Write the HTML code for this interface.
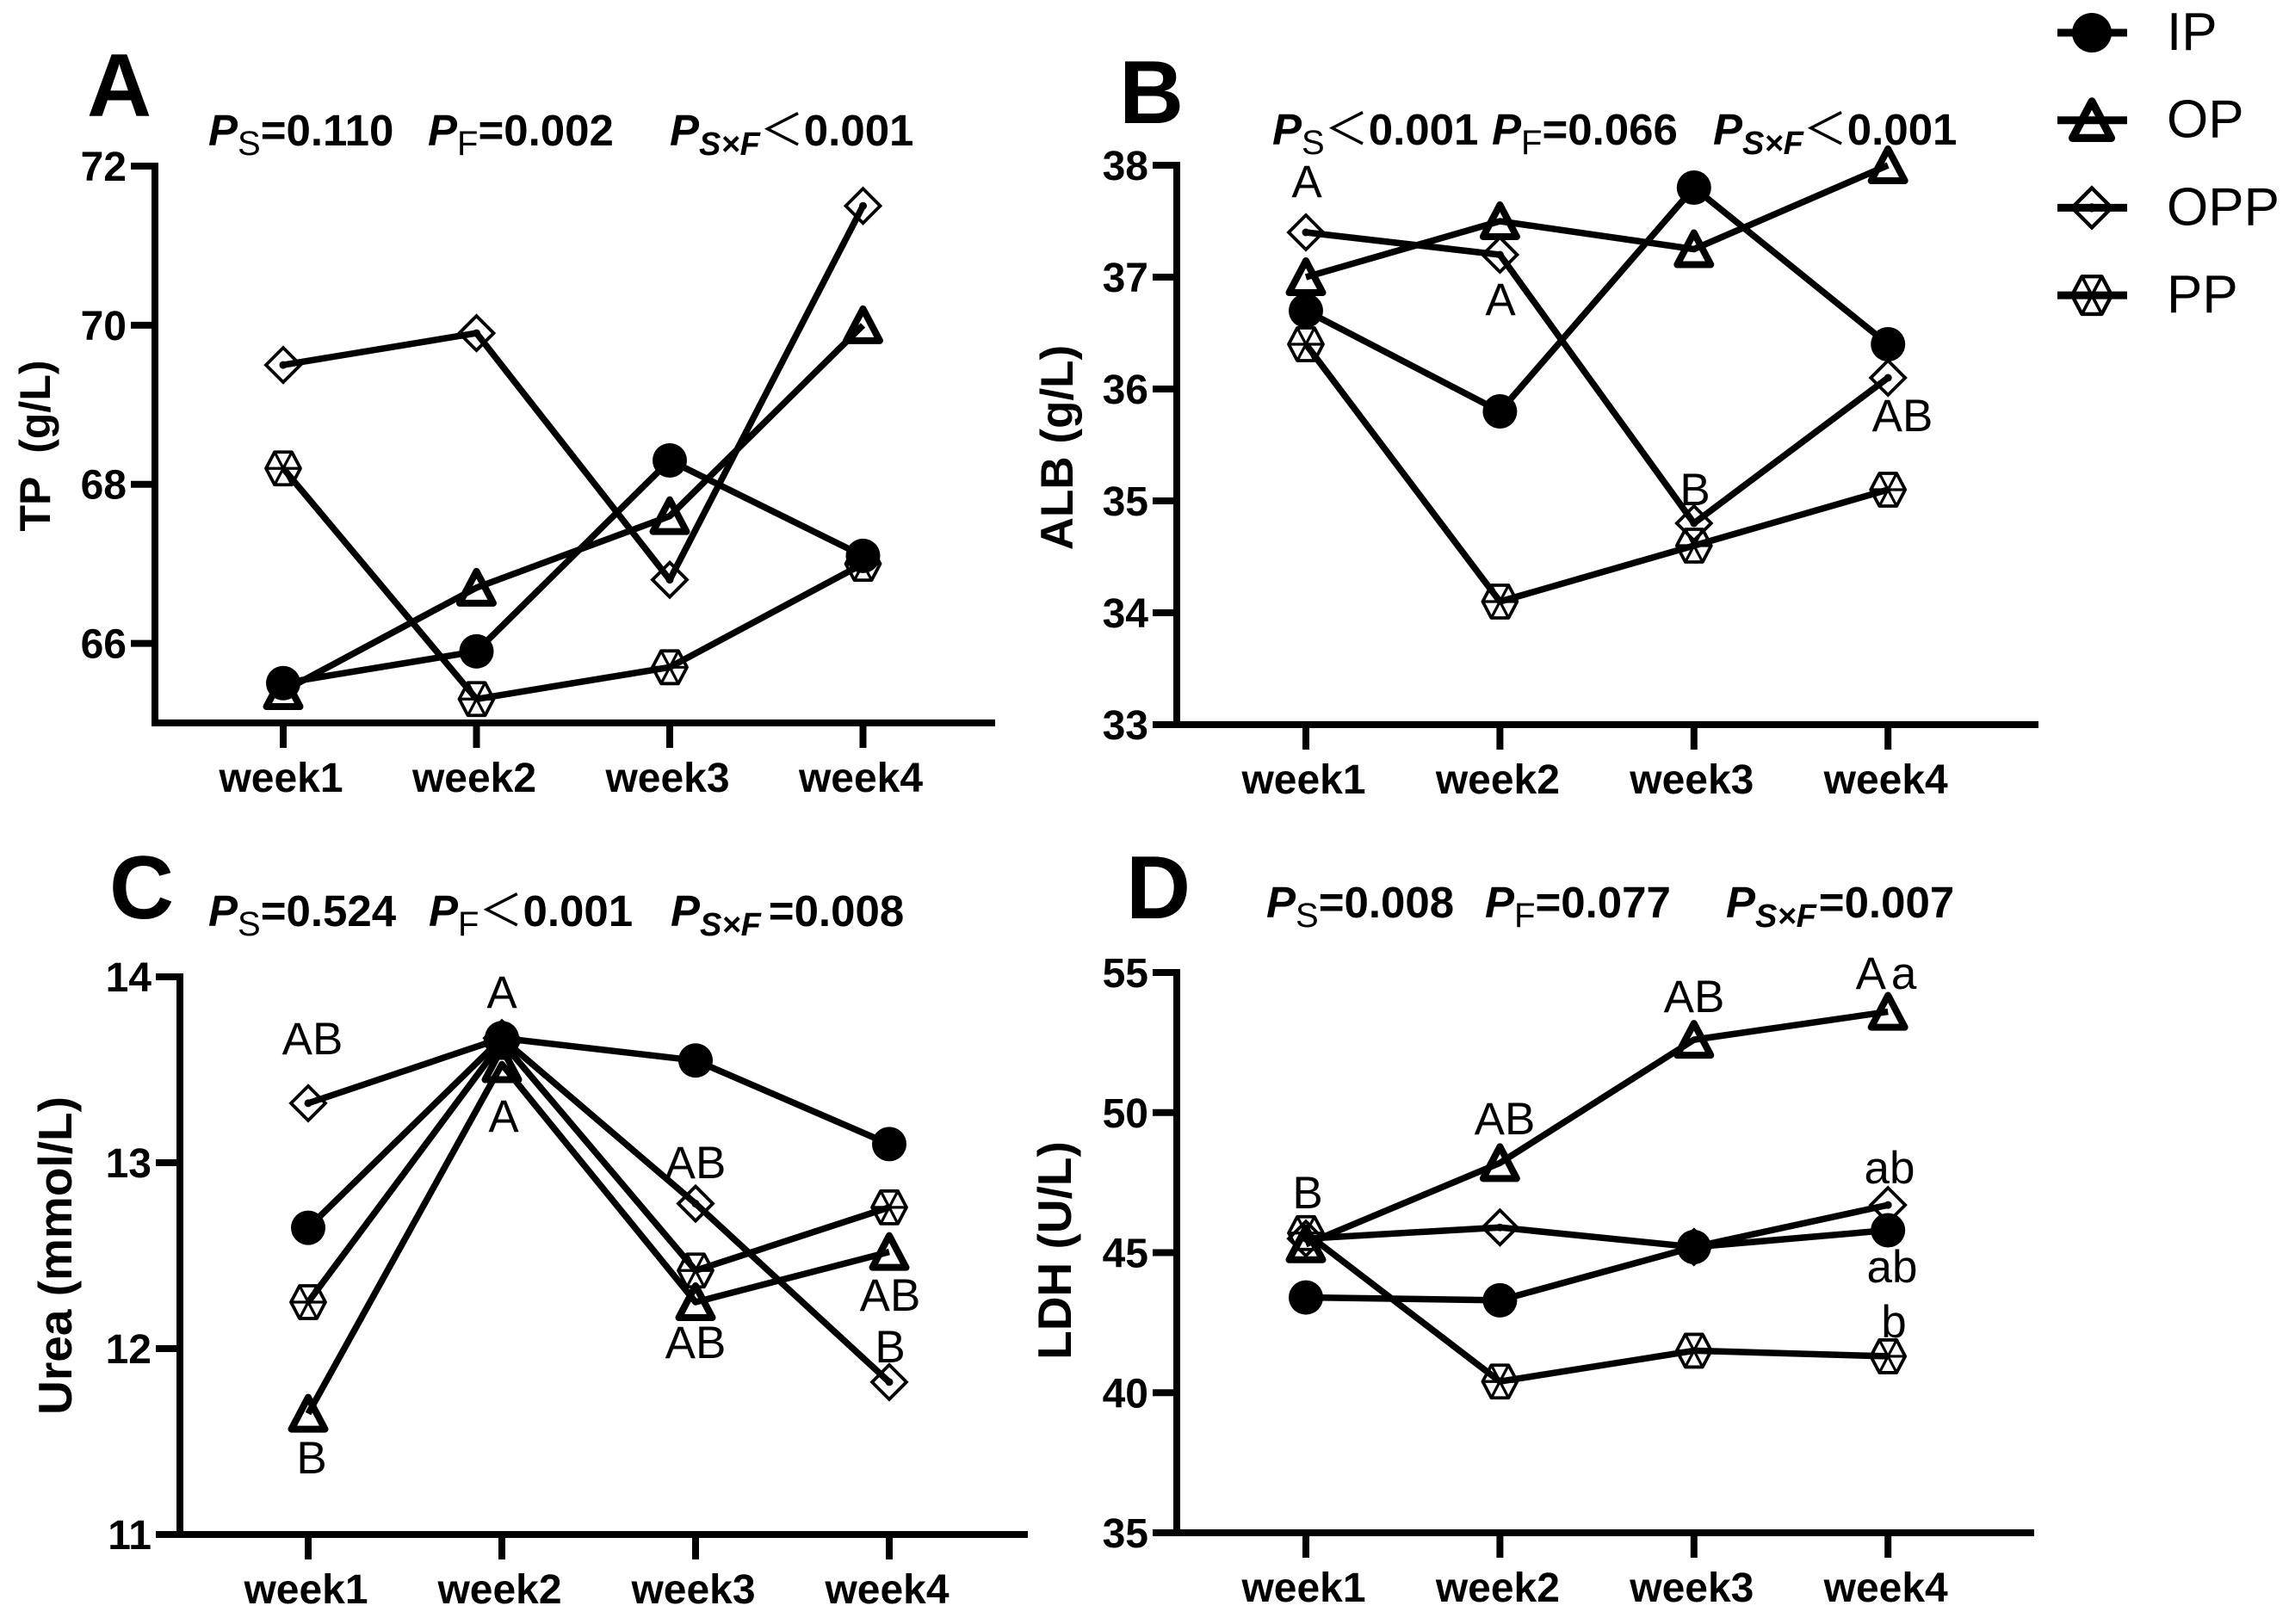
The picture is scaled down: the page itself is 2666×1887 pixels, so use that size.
<!DOCTYPE html>
<html lang="en">
<head>
<meta charset="utf-8">
<title>Serum biochemistry by week</title>
<style>
html,body{margin:0;padding:0;background:#fff;}
svg{display:block;}
text{font-family:"Liberation Sans","Noto Sans CJK SC",sans-serif;fill:#000;}
.panel-letter{font-size:104px;font-weight:700;}
.stat{font-size:51px;font-weight:700;}
.stat .i{font-style:italic;}
.stat .s{font-size:40px;font-weight:400;}
.stat .si{font-size:38px;font-style:italic;font-weight:700;}
.stat .lt{font-weight:400;font-family:"Noto Sans CJK SC","Liberation Sans",sans-serif;}
.tick{font-size:48px;font-weight:700;}
.ytitle{font-weight:700;}
.note{font-size:53px;font-weight:400;text-anchor:middle;}
.legend-label{font-size:62px;}
</style>
</head>
<body>
<svg id="chart" xmlns="http://www.w3.org/2000/svg" width="2666" height="1887" viewBox="0 0 2666 1887">
<rect width="2666" height="1887" fill="#fff"/>

<text class="panel-letter" x="101" y="135">A</text>
<text class="panel-letter" x="1300" y="143">B</text>
<text class="panel-letter" x="127" y="1067">C</text>
<text class="panel-letter" x="1308" y="1067">D</text>

<g>
<text class="stat" x="242" y="169"><tspan class="i">P</tspan><tspan class="s" dy="11">S</tspan><tspan dy="-11">=0.110</tspan></text>
<text class="stat" x="497" y="169"><tspan class="i">P</tspan><tspan class="s" dy="11">F</tspan><tspan dy="-11">=0.002</tspan></text>
<text class="stat" x="778" y="169"><tspan class="i">P</tspan><tspan class="si" dy="11">S×F</tspan><tspan class="lt" dy="-11">＜</tspan><tspan>0.001</tspan></text>
</g>
<g>
<text class="stat" x="1478" y="168"><tspan class="i">P</tspan><tspan class="s" dy="11">S</tspan><tspan class="lt" dy="-11">＜</tspan><tspan>0.001</tspan></text>
<text class="stat" x="1733" y="168"><tspan class="i">P</tspan><tspan class="s" dy="11">F</tspan><tspan dy="-11">=0.066</tspan></text>
<text class="stat" x="1990" y="168"><tspan class="i">P</tspan><tspan class="si" dy="11">S×F</tspan><tspan class="lt" dy="-11">＜</tspan><tspan>0.001</tspan></text>
</g>
<g>
<text class="stat" x="242" y="1076"><tspan class="i">P</tspan><tspan class="s" dy="11">S</tspan><tspan dy="-11">=0.524</tspan></text>
<text class="stat" x="498" y="1076"><tspan class="i">P</tspan><tspan class="s" dy="11">F</tspan><tspan class="lt" dy="-11">＜</tspan><tspan>0.001</tspan></text>
<text class="stat" x="779" y="1076"><tspan class="i">P</tspan><tspan class="si" dy="11">S×F</tspan><tspan dy="-11" dx="9">=0.008</tspan></text>
</g>
<g>
<text class="stat" x="1471" y="1066"><tspan class="i">P</tspan><tspan class="s" dy="11">S</tspan><tspan dy="-11">=0.008</tspan></text>
<text class="stat" x="1725" y="1066"><tspan class="i">P</tspan><tspan class="s" dy="11">F</tspan><tspan dy="-11">=0.077</tspan></text>
<text class="stat" x="2005" y="1066"><tspan class="i">P</tspan><tspan class="si" dy="11">S×F</tspan><tspan dy="-11" dx="3">=0.007</tspan></text>
</g>

<text class="ytitle" font-size="50" text-anchor="middle" transform="translate(58,518) rotate(-90)" xml:space="preserve">TP  (g/L)</text>
<text class="ytitle" font-size="53" text-anchor="middle" transform="translate(1246,520) rotate(-90)">ALB (g/L)</text>
<text class="ytitle" font-size="55" text-anchor="middle" transform="translate(83,1459) rotate(-90)">Urea (mmol/L)</text>
<text class="ytitle" font-size="55" text-anchor="middle" transform="translate(1244,1453) rotate(-90)">LDH (U/L)</text>

<g id="plots"></g>

<g>
<text class="note" x="1518" y="229">A</text>
<text class="note" x="1743" y="366">A</text>
<text class="note" x="1969" y="587">B</text>
<text class="note" x="2210" y="501">AB</text>
</g>
<g>
<text class="note" x="363" y="1225">AB</text>
<text class="note" x="362" y="1712">B</text>
<text class="note" x="583" y="1171">A</text>
<text class="note" x="585" y="1315">A</text>
<text class="note" x="808" y="1369">AB</text>
<text class="note" x="808" y="1578">AB</text>
<text class="note" x="1034" y="1523">AB</text>
<text class="note" x="1034" y="1583">B</text>
</g>
<g>
<text class="note" x="1519" y="1404">B</text>
<text class="note" x="1748" y="1318">AB</text>
<text class="note" x="1968" y="1176">AB</text>
<text class="note" x="2194" y="1149" letter-spacing="6">Aa</text>
<text class="note" x="2195" y="1375">ab</text>
<text class="note" x="2198" y="1490">ab</text>
<text class="note" x="2200" y="1554">b</text>
</g>

<g id="legend"></g>
</svg>

<script>
const weekLabels = ['week1', 'week2', 'week3', 'week4'];
const seriesNames = ['IP', 'OP', 'OPP', 'PP'];

const tpTicks = [66, 68, 70, 72];
const tpIP = [65.5, 65.9, 68.3, 67.1];
const tpOP = [65.4, 66.7, 67.6, 70.0];
const tpOPP = [69.5, 69.9, 66.8, 71.5];
const tpPP = [68.2, 65.3, 65.7, 67.0];

const albTicks = [33, 34, 35, 36, 37, 38];
const albIP = [36.7, 35.8, 37.8, 36.4];
const albOP = [37.0, 37.5, 37.25, 38.0];
const albOPP = [37.4, 37.2, 34.8, 36.1];
const albPP = [36.4, 34.1, 34.6, 35.1];

const ureaTicks = [11, 12, 13, 14];
const ureaIP = [12.65, 13.67, 13.55, 13.1];
const ureaOP = [11.65, 13.53, 12.25, 12.52];
const ureaOPP = [13.32, 13.67, 12.78, 11.82];
const ureaPP = [12.25, 13.65, 12.42, 12.76];

const ldhTicks = [35, 40, 45, 50, 55];
const ldhIP = [43.4, 43.3, 45.2, 45.8];
const ldhOP = [45.3, 48.2, 52.6, 53.6];
const ldhOPP = [45.5, 45.9, 45.2, 46.7];
const ldhPP = [45.7, 40.4, 41.5, 41.3];

const SVG_NS = 'http://www.w3.org/2000/svg';

function make(tag, parent, attrs) {
  const node = document.createElementNS(SVG_NS, tag);
  for (const key in attrs) node.setAttribute(key, attrs[key]);
  parent.appendChild(node);
  return node;
}

function drawMarker(parent, kind, cx, cy, k) {
  const g = make('g', parent, { transform: 'translate(' + cx + ',' + cy + ') scale(' + k + ')' });
  if (kind === 'IP') {
    make('circle', g, { cx: 0, cy: 0, r: 20, fill: '#000' });
  } else if (kind === 'OP') {
    make('path', g, { d: 'M0,-19 L19.5,18 L-19.5,18 Z', fill: 'none', stroke: '#000', 'stroke-width': 8, 'stroke-linejoin': 'round' });
  } else if (kind === 'OPP') {
    make('path', g, { d: 'M0,-20 L20,0 L0,20 L-20,0 Z', fill: 'none', stroke: '#000', 'stroke-width': 3.8 });
    make('circle', g, { cx: 0, cy: 0, r: 4.5, fill: '#000' });
  } else {
    make('path', g, { d: 'M-20,0 L-10,-19 L10,-19 L20,0 L10,19 L-10,19 Z', fill: 'none', stroke: '#000', 'stroke-width': 3.8, 'stroke-linejoin': 'round' });
    make('path', g, { d: 'M-10,-19 L10,19 M10,-19 L-10,19 M-20,0 L20,0', fill: 'none', stroke: '#000', 'stroke-width': 3.2 });
  }
  return g;
}

function drawPanel(id, cfg) {
  const root = make('g', document.getElementById('plots'), {});
  
  

  const xScale = function (i) { return cfg.x0 + i * cfg.dx; };
  const yScale = function (v) { return cfg.bottom - (v - cfg.min) / (cfg.max - cfg.min) * (cfg.bottom - cfg.top); };

  const yAxis = make('line', root, { x1: cfg.axisX, x2: cfg.axisX, y1: yScale(cfg.max) - 4, y2: cfg.bottom + 4, stroke: '#000', 'stroke-width': 8 });
  
  

  const xAxis = make('line', root, { x1: cfg.axisX - 4, x2: cfg.right, y1: cfg.bottom, y2: cfg.bottom, stroke: '#000', 'stroke-width': 8 });
  
  

  cfg.ticks.forEach(function (v) {
    const y = yScale(v);
    const tick = make('line', root, { x1: cfg.axisX - 28, x2: cfg.axisX, y1: y, y2: y, stroke: '#000', 'stroke-width': 8 });
    
    
    const label = make('text', root, { class: 'tick', x: cfg.axisX - 33, y: y + 17, 'text-anchor': 'end' });
    label.textContent = String(v);
    
    
  });

  weekLabels.forEach(function (w, i) {
    const x = xScale(i);
    const tick = make('line', root, { x1: x, x2: x, y1: cfg.bottom, y2: cfg.bottom + 29, stroke: '#000', 'stroke-width': 8 });
    
    
    const label = make('text', root, { class: 'tick', x: x - 2.5, y: cfg.bottom + 80, 'text-anchor': 'middle' });
    label.textContent = w;
    
    
  });

  for (let s = seriesNames.length - 1; s >= 0; s--) {
    const name = seriesNames[s];
    const values = cfg.series[s];
    const group = make('g', root, {});
    
    
    const pts = values.map(function (v, i) { return xScale(i) + ',' + yScale(v); }).join(' ');
    const line = make('polyline', group, { points: pts, fill: 'none', stroke: '#000', 'stroke-width': 7.5, 'stroke-linejoin': 'round' });
    
    
    values.forEach(function (v, i) {
      const mark = drawMarker(group, name, xScale(i), yScale(v), 1);
      
      
    });
  }
}

drawPanel('a', { x0: 329, dx: 224.5, axisX: 180, right: 1156, top: 193, bottom: 840, min: 65, max: 72, ticks: tpTicks, series: [tpIP, tpOP, tpOPP, tpPP] });
drawPanel('b', { x0: 1517, dx: 225.4, axisX: 1367, right: 2368, top: 192, bottom: 842, min: 33, max: 38, ticks: albTicks, series: [albIP, albOP, albOPP, albPP] });
drawPanel('c', { x0: 358, dx: 225, axisX: 209, right: 1194, top: 1135, bottom: 1783, min: 11, max: 14, ticks: ureaTicks, series: [ureaIP, ureaOP, ureaOPP, ureaPP] });
drawPanel('d', { x0: 1517, dx: 225.4, axisX: 1367, right: 2363, top: 1130, bottom: 1781, min: 35, max: 55, ticks: ldhTicks, series: [ldhIP, ldhOP, ldhOPP, ldhPP] });

const legendRoot = document.getElementById('legend');
seriesNames.forEach(function (name, i) {
  const y = 38 + i * 101.7;
  const entry = make('g', legendRoot, {});
  
  
  make('line', entry, { x1: 2390, x2: 2471, y1: y, y2: y, stroke: '#000', 'stroke-width': 9 });
  drawMarker(entry, name, 2430, y, 1.15);
  const label = make('text', entry, { class: 'legend-label', x: 2517, y: y + 20 });
  label.textContent = name;
});
</script>
</body>
</html>
